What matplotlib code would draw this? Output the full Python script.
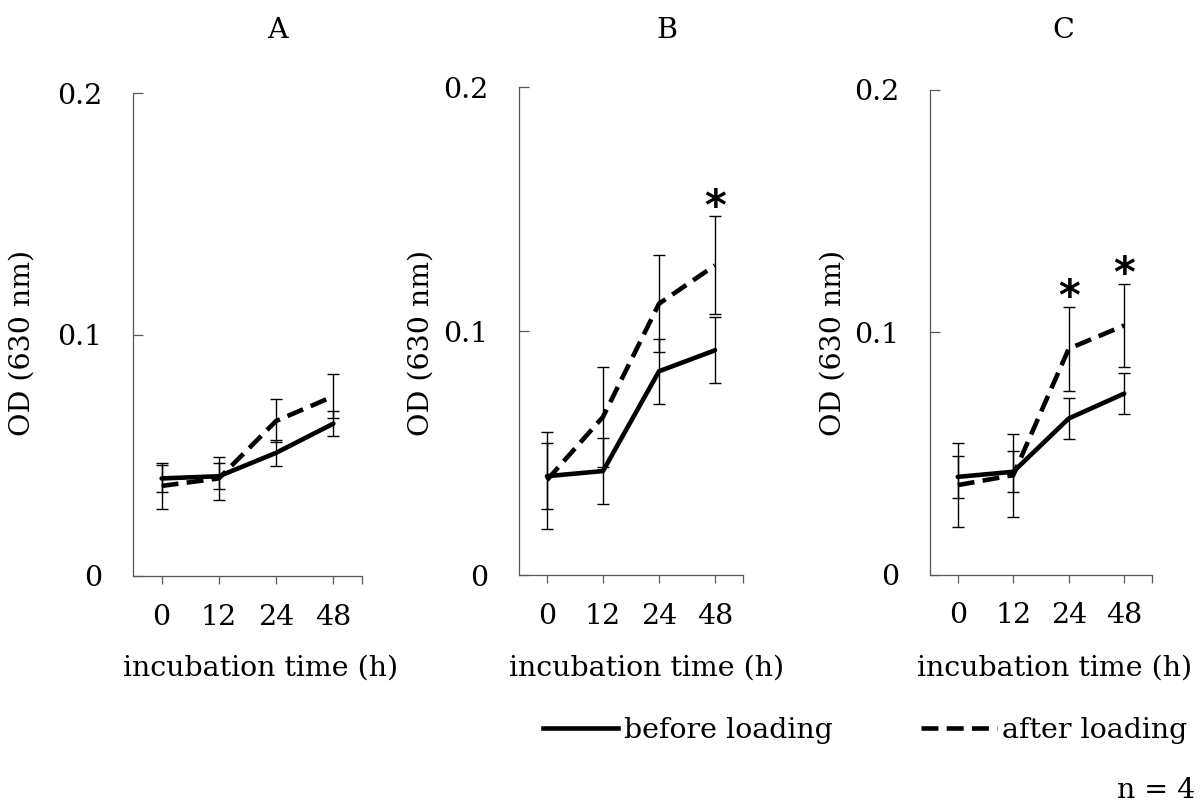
import matplotlib
matplotlib.use("Agg")
import matplotlib.pyplot as plt
from matplotlib.lines import Line2D

plt.rcParams['font.family'] = ['DejaVu Serif']

# incubation times (category labels)
times = ['0', '12', '24', '48']

# panel A
a_before = [0.0404, 0.0413, 0.0510, 0.0631]
a_before_err = [0.0055, 0.0053, 0.0054, 0.0052]
a_after = [0.0373, 0.0404, 0.0642, 0.0744]
a_after_err = [0.0096, 0.0090, 0.0089, 0.0091]
a_stars = []

# panel B
b_before = [0.0405, 0.0426, 0.0835, 0.0921]
b_before_err = [0.0136, 0.0135, 0.0134, 0.0135]
b_after = [0.0389, 0.0648, 0.1112, 0.1269]
b_after_err = [0.0199, 0.0205, 0.0198, 0.0201]
b_stars = [3]

# panel C
c_before = [0.0403, 0.0424, 0.0644, 0.0747]
c_before_err = [0.0086, 0.0085, 0.0085, 0.0085]
c_after = [0.0369, 0.0410, 0.0932, 0.1028]
c_after_err = [0.0172, 0.0172, 0.0173, 0.0172]
c_stars = [2, 3]

W, H = 1201, 810
FS = 20.5
axis_col = '#595959'
dash = (0, (3.7, 1.8))


def px(x, y):
    return x / W, 1 - y / H


fig = plt.figure(figsize=(W / 100, H / 100), dpi=100)

# axes boxes in pixels: left, right, top, bottom
boxes = [(133, 362, 93, 576), (519, 743, 87, 575), (930, 1152, 90, 574.5)]
titles = ['A', 'B', 'C']
title_x = [277, 667, 1063]
ylabel_x = [22, 421, 833]
xlabel_x = [261, 647, 1055]

panels = [
    (a_before, a_before_err, a_after, a_after_err, a_stars),
    (b_before, b_before_err, b_after, b_after_err, b_stars),
    (c_before, c_before_err, c_after, c_after_err, c_stars),
]

x = list(range(len(times)))
for i, (before, before_err, after, after_err, stars) in enumerate(panels):
    l, r, t, b = boxes[i]
    ax = fig.add_axes([l / W, 1 - b / H, (r - l) / W, (b - t) / H])

    ax.errorbar(x, before, yerr=before_err, fmt='none', ecolor='black',
                elinewidth=1.0, capsize=4, capthick=1.0)
    ax.errorbar(x, after, yerr=after_err, fmt='none', ecolor='black',
                elinewidth=1.0, capsize=4, capthick=1.0)
    ax.plot(x, before, color='black', lw=3.3, solid_capstyle='round',
            solid_joinstyle='round')
    ax.plot(x, after, color='black', lw=3.3, linestyle=dash,
            dash_capstyle='butt')

    for s in stars:
        ax.annotate('*', xy=(x[s], after[s] + after_err[s]), xytext=(0, -9),
                    textcoords='offset points', ha='center', va='bottom',
                    fontsize=30, fontweight='bold', family='DejaVu Sans')

    ax.set_xlim(-0.5, 3.5)
    ax.set_ylim(0, 0.2)
    ax.set_yticks([0, 0.1, 0.2])
    ax.set_yticklabels(['0', '0.1', '0.2'])
    ax.set_xticks(x)
    ax.set_xticklabels(times)
    ax.set_xticks([3.5], minor=True)

    for side in ['top', 'right']:
        ax.spines[side].set_visible(False)
    for side in ['left', 'bottom']:
        ax.spines[side].set_color(axis_col)
        ax.spines[side].set_linewidth(0.9)

    ax.tick_params(axis='y', direction='in', length=7, width=0.9,
                   color=axis_col, labelsize=FS, pad=22)
    ax.tick_params(axis='x', which='both', direction='out', length=6,
                   width=0.9, color=axis_col, labelsize=FS, pad=14)

    fig.text(*px(title_x[i], 31), titles[i], ha='center', va='center',
             fontsize=FS)
    fig.text(*px(ylabel_x[i], 343), 'OD (630 nm)', rotation=90,
             ha='center', va='center', fontsize=FS)
    fig.text(*px(xlabel_x[i], 668), 'incubation time (h)', ha='center',
             va='center', fontsize=FS)

handles = [Line2D([], [], color='black', lw=3.3),
           Line2D([], [], color='black', lw=3.3, linestyle=dash)]
fig.legend(handles, ['before loading', 'after loading'], ncol=2,
           loc='center left', bbox_to_anchor=px(543, 730), frameon=False,
           fontsize=FS, handlelength=2.65, handletextpad=0.2,
           columnspacing=3.1, borderpad=0, borderaxespad=0)

fig.text(*px(1195, 790), 'n = 4', ha='right', va='center', fontsize=FS)

fig.savefig('out.png', dpi=100)
